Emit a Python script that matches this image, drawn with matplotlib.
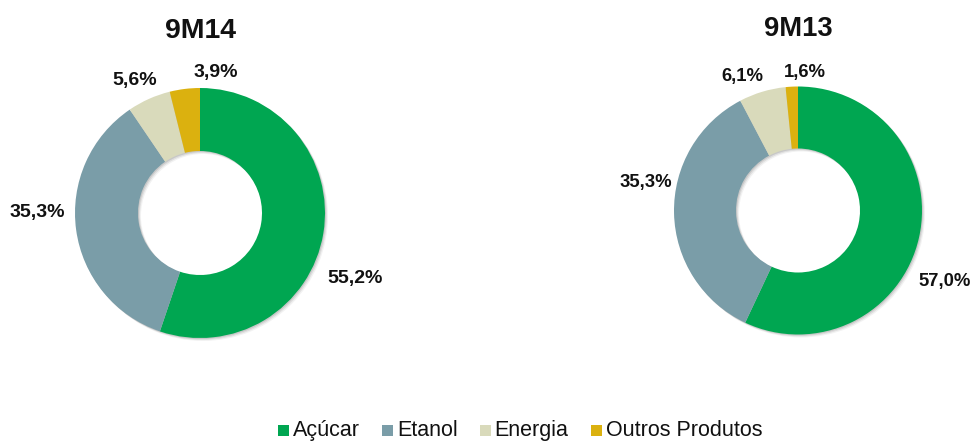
import matplotlib
matplotlib.use("Agg")
import matplotlib.pyplot as plt
from matplotlib.patches import Rectangle, Wedge

plt.rcParams['font.family'] = ['Liberation Sans', 'DejaVu Sans']

categories = ["Açúcar", "Etanol", "Energia", "Outros Produtos"]
periods = ["9M14", "9M13"]
shares_9m14 = [55.2, 35.3, 5.6, 3.9]
shares_9m13 = [57.0, 35.3, 6.1, 1.6]
colors = ["#00A651", "#7A9DA8", "#D9DABB", "#DBB10F"]

W, H = 971, 441
fig = plt.figure(figsize=(W / 100, H / 100), dpi=100)
ax = fig.add_axes([0, 0, 1, 1])

# donut geometry in pixel units (y measured from the bottom)
centers = [(200, H - 213), (798, H - 210.5)]
radii = [125, 124]
ring_width = [63, 62]
label_size = [14, 13.3]
title_size = [20.5, 19.7]
title_baseline = [H - 38, H - 36]

# label anchors relative to each centre (dx right, dy up to the baseline)
label_offsets = [
    [(155, -70), (-163, -4), (-65.5, 128), (16, 136)],
    [(147, -75.5), (-152.5, 23.5), (-55.5, 129.5), (7, 133.5)],
]

for i, vals in enumerate([shares_9m14, shares_9m13]):
    ctr = centers[i]
    # soft drop shadow under the ring, offset to the lower right
    for k, a in ((1.0, 0.10), (2.0, 0.08), (3.0, 0.05)):
        ax.add_patch(Wedge((ctr[0] + k, ctr[1] - k), radii[i], 0, 360,
                           width=ring_width[i], facecolor="black",
                           edgecolor="none", alpha=a, zorder=0))
    ax.pie(vals, colors=colors, startangle=90, counterclock=False,
           radius=radii[i], center=ctr,
           wedgeprops=dict(width=ring_width[i], edgecolor="none", zorder=1))
    for v, (dx, dy) in zip(vals, label_offsets[i]):
        ax.text(ctr[0] + dx, ctr[1] + dy, f"{v:.1f}%".replace(".", ","),
                ha="center", va="baseline", fontsize=label_size[i],
                fontweight="bold", color="#111111")
    ax.text(ctr[0], title_baseline[i], periods[i], ha="center",
            va="baseline", fontsize=title_size[i], fontweight="bold",
            color="#111111")

ax.set_xlim(0, W)
ax.set_ylim(0, H)
ax.set_aspect("equal")
ax.axis("off")

# legend row: coloured square followed by its label, all on one baseline
fig.canvas.draw()
renderer = fig.canvas.get_renderer()
x = 278
baseline = 5
square = 11
for c, name in zip(colors, categories):
    ax.add_patch(Rectangle((x, baseline), square, square, facecolor=c,
                           edgecolor="none", clip_on=False))
    t = ax.text(x + square + 4, baseline, name, ha="left", va="baseline",
                fontsize=15.5, color="#111111")
    width = t.get_window_extent(renderer).width
    x += square + 4 + width + 22

fig.savefig("out.png", dpi=100)
